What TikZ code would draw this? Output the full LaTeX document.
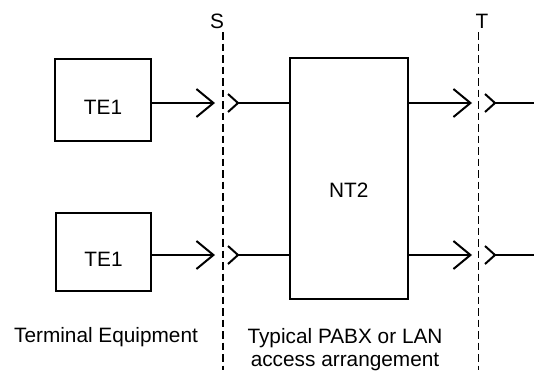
\documentclass[tikz,border=0pt]{standalone}
\usepackage{fontspec}
\setmainfont{Liberation Sans}
\usetikzlibrary{arrows.meta,positioning}

\begin{document}
\begin{tikzpicture}[x=1pt, y=-1pt, line width=2pt,
  every node/.style={font=\fontsize{20.8}{23.5}\selectfont, inner sep=0pt},
  box/.style={draw, rectangle, line width=2pt},
  sig/.style={-{Straight Barb[length=17pt, width=28pt, line width=2pt]}},
  plug/.style={line width=2pt, line cap=butt},
  refline/.style={line width=1.6pt, dash pattern=on 7.5pt off 4pt}]
  \useasboundingbox (0,0) rectangle (534,370);

  % Nodes
  \node[box, minimum width=96pt, minimum height=82pt, text height=29pt] (te1a) at (103,100) {TE1};
  \node[box, minimum width=95pt, minimum height=78pt, text height=29pt] (te1b) at (103.5,252) {TE1};
  \node[box, minimum width=117.5pt, minimum height=241pt, text height=37pt] (nt2) at (348.75,178.5) {NT2};
  \node (S) at (217,21.5) {S};
  \node (T) at (482,21) {T};
  \node[anchor=base] (termeq) at (106,342) {Terminal Equipment};
  \node[anchor=north, align=center] (pabx) at (345,327) {Typical PABX or LAN\\access arrangement};

  % Reference points
  \coordinate (stop) at (223,32);
  \coordinate (sbot) at (223,370);
  \coordinate (ttop) at (478.5,32);
  \coordinate (tbot) at (478.5,370);
  \coordinate (s1in) at (215,103);
  \coordinate (s1out) at (238,103);
  \coordinate (s2in) at (215,255);
  \coordinate (s2out) at (238,255);
  \coordinate (t1in) at (472,103);
  \coordinate (t1out) at (495,103);
  \coordinate (t2in) at (472,255);
  \coordinate (t2out) at (495,255);
  \coordinate (t1end) at (534,103);
  \coordinate (t2end) at (534,255);

  % Reference lines S and T
  \draw[refline] (stop) -- (sbot);
  \draw[refline] (ttop) -- (tbot);

  % Edges
  \draw[sig] (te1a.east |- s1in) -- (s1in);
  \draw[sig] (te1b.east |- s2in) -- (s2in);
  \draw[sig] (nt2.east |- t1in) -- (t1in);
  \draw[sig] (nt2.east |- t2in) -- (t2in);
  \draw (s1out) -- (nt2.west |- s1out);
  \draw (s2out) -- (nt2.west |- s2out);
  \draw (t1out) -- (t1end);
  \draw (t2out) -- (t2end);

  % Plugs
  \draw[plug] (s1out) ++(-10,-9) -- (s1out) -- ++(-10,9);
  \draw[plug] (s2out) ++(-10,-9) -- (s2out) -- ++(-10,9);
  \draw[plug] (t1out) ++(-10,-9) -- (t1out) -- ++(-10,9);
  \draw[plug] (t2out) ++(-10,-9) -- (t2out) -- ++(-10,9);
\end{tikzpicture}
\end{document}
